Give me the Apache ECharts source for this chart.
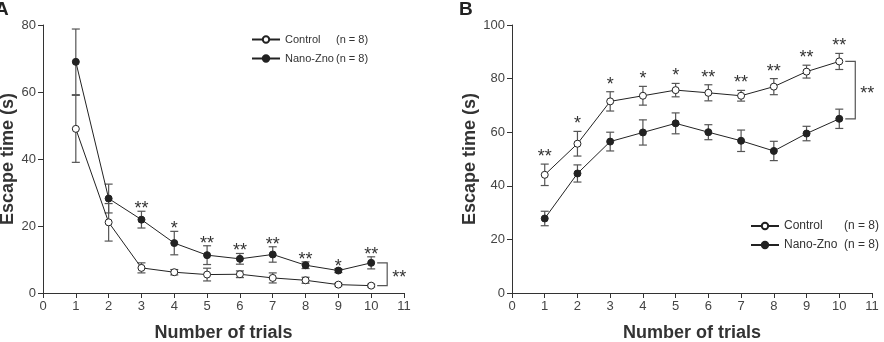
<!DOCTYPE html>
<html>
<head>
<meta charset="utf-8">
<script src="https://cdn.jsdelivr.net/npm/echarts@6/dist/echarts.min.js"></script>
<style>
  html, body { margin: 0; padding: 0; background: #fff; }
  #chart { width: 884px; height: 342px; }
</style>
</head>
<body>
<div id="chart"></div>
<script>
// trial numbers on the x axis
const trials = [1, 2, 3, 4, 5, 6, 7, 8, 9, 10];

// panel A values (mean and error)
const controlA = [49, 21.1, 7.5, 6.2, 5.5, 5.6, 4.5, 3.8, 2.5, 2.2];
const controlErrA = [10, 5.6, 1.5, 0.8, 1.9, 1.0, 1.5, 0.9, 0.4, 0.4];
const nanoA = [69, 28.2, 21.9, 14.9, 11.3, 10.2, 11.5, 8.3, 6.7, 9.0];
const nanoErrA = [9.8, 4.3, 2.5, 3.5, 2.8, 1.6, 2.3, 1.0, 0.6, 1.8];
const starsA = ['', '', '**', '*', '**', '**', '**', '**', '*', '**'];

// panel B values
const controlB = [44.1, 55.7, 71.5, 73.6, 75.7, 74.7, 73.6, 77.0, 82.6, 86.4];
const controlErrB = [4.0, 4.6, 3.6, 3.5, 2.5, 3.0, 2.0, 3.0, 2.4, 3.0];
const nanoB = [27.8, 44.6, 56.5, 59.9, 63.3, 60.0, 56.8, 53.0, 59.5, 65.0];
const nanoErrB = [2.7, 3.2, 3.5, 4.7, 3.9, 2.8, 4.0, 3.6, 2.7, 3.6];
const starsB = ['**', '*', '*', '*', '*', '**', '**', '**', '**', '**'];

const groupNames = ['Control', 'Nano-Zno'];
const nLabel = '(n = 8)';

const FONT = 'Liberation Sans, Arial, sans-serif';
const INK = '#333';

const chart = echarts.init(document.getElementById('chart'));

const pairs = (vals) => trials.map((t, i) => [t, vals[i]]);
const errData = (vals, errs) => trials.map((t, i) => [t, vals[i] - errs[i], vals[i] + errs[i]]);

function errorBarSeries(idx, vals, errs) {
  return {
    type: 'custom',
    xAxisIndex: idx,
    yAxisIndex: idx,
    z: 1,
    silent: true,
    data: errData(vals, errs),
    renderItem: (params, api) => {
      const lo = api.coord([api.value(0), api.value(1)]);
      const hi = api.coord([api.value(0), api.value(2)]);
      const w = 4;
      const style = { stroke: '#555', lineWidth: 1.2 };
      return {
        type: 'group',
        children: [
          { type: 'line', shape: { x1: lo[0], y1: lo[1], x2: hi[0], y2: hi[1] }, style },
          { type: 'line', shape: { x1: lo[0] - w, y1: lo[1], x2: lo[0] + w, y2: lo[1] }, style },
          { type: 'line', shape: { x1: hi[0] - w, y1: hi[1], x2: hi[0] + w, y2: hi[1] }, style }
        ]
      };
    }
  };
}

function lineSeries(idx, name, vals, filled) {
  return {
    type: 'line',
    name: name,
    xAxisIndex: idx,
    yAxisIndex: idx,
    z: 3,
    data: pairs(vals),
    symbol: 'circle',
    symbolSize: 7,
    showSymbol: true,
    lineStyle: { color: '#222', width: 1 },
    itemStyle: {
      color: filled ? '#222' : '#fff',
      borderColor: '#222',
      borderWidth: 1
    },
    emphasis: { disabled: true },
    animation: false
  };
}

function starSeries(idx, vals, errs, stars, gap) {
  return {
    type: 'custom',
    xAxisIndex: idx,
    yAxisIndex: idx,
    z: 4,
    silent: true,
    data: trials.map((t, i) => [t, vals[i] + errs[i]]),
    renderItem: (params, api) => {
      const p = api.coord([api.value(0), api.value(1)]);
      return {
        type: 'text',
        style: {
          text: stars[params.dataIndex],
          x: p[0],
          y: p[1] - gap,
          align: 'center',
          verticalAlign: 'middle',
          font: '18px ' + FONT,
          fill: INK
        }
      };
    }
  };
}

function bracketSeries(idx, topVal, botVal) {
  return {
    type: 'custom',
    xAxisIndex: idx,
    yAxisIndex: idx,
    z: 2,
    silent: true,
    data: [[trials[trials.length - 1], topVal, botVal]],
    renderItem: (params, api) => {
      const a = api.coord([api.value(0), api.value(1)]);
      const b = api.coord([api.value(0), api.value(2)]);
      const x0 = a[0] + 6, x1 = a[0] + 16;
      return {
        type: 'group',
        children: [
          {
            type: 'polyline',
            shape: { points: [[x0, a[1]], [x1, a[1]], [x1, b[1]], [x0, b[1]]] },
            style: { stroke: '#555', lineWidth: 1.2, fill: null }
          },
          {
            type: 'text',
            style: {
              text: '**',
              x: x1 + 12,
              y: (a[1] + b[1]) / 2 + 4,
              align: 'center',
              verticalAlign: 'middle',
              font: '18px ' + FONT,
              fill: INK
            }
          }
        ]
      };
    }
  };
}

function xAxis(idx) {
  return {
    type: 'value',
    gridIndex: idx,
    min: 0,
    max: 11,
    interval: 1,
    name: 'Number of trials',
    nameLocation: 'middle',
    nameGap: 31,
    nameTextStyle: { fontFamily: FONT, fontWeight: 'bold', fontSize: 18, color: INK },
    axisLine: { lineStyle: { color: INK, width: 1 } },
    axisTick: { length: 5, lineStyle: { color: INK } },
    axisLabel: { fontFamily: FONT, fontSize: 13, color: '#444', margin: 7 },
    splitLine: { show: false }
  };
}

function yAxis(idx, max, nameGap) {
  return {
    type: 'value',
    gridIndex: idx,
    min: 0,
    max: max,
    interval: 20,
    name: 'Escape time (s)',
    nameLocation: 'middle',
    nameGap: nameGap,
    nameTextStyle: { fontFamily: FONT, fontWeight: 'bold', fontSize: 18, color: INK },
    axisLine: { show: true, lineStyle: { color: INK, width: 1 } },
    axisTick: { show: true, length: 5, lineStyle: { color: INK } },
    axisLabel: { fontFamily: FONT, fontSize: 13, color: '#444', margin: 7 },
    splitLine: { show: false }
  };
}

function legend(left, top, fontSize, nameWidth, gap) {
  return {
    orient: 'vertical',
    left: left,
    top: top,
    itemWidth: 28,
    itemHeight: 8,
    itemGap: gap,
    selectedMode: false,
    data: groupNames,
    formatter: (name) => `{n|${name}}{c|${nLabel}}`,
    textStyle: {
      fontFamily: FONT,
      fontSize: fontSize,
      color: INK,
      rich: {
        n: { width: nameWidth, fontFamily: FONT, fontSize: fontSize, color: INK },
        c: { fontFamily: FONT, fontSize: fontSize, color: INK }
      }
    }
  };
}

const options = {
  animation: false,
  grid: [
    { left: 43, top: 25, width: 361, height: 268, outerBoundsMode: 'none' },
    { left: 512, top: 25, width: 360, height: 268, outerBoundsMode: 'none' }
  ],
  xAxis: [xAxis(0), xAxis(1)],
  yAxis: [yAxis(0, 80, 26), yAxis(1, 100, 30)],
  legend: [
    legend(246, 29, 11, 51, 8),
    legend(745, 215, 12, 60, 7)
  ],
  graphic: [
    { type: 'text', left: -5, top: 0, style: { text: 'A', font: 'bold 19px ' + FONT, fill: '#222' } },
    { type: 'text', left: 459, top: 0, style: { text: 'B', font: 'bold 19px ' + FONT, fill: '#222' } }
  ],
  series: [
    errorBarSeries(0, controlA, controlErrA),
    errorBarSeries(0, nanoA, nanoErrA),
    lineSeries(0, groupNames[0], controlA, false),
    lineSeries(0, groupNames[1], nanoA, true),
    starSeries(0, nanoA, nanoErrA, starsA, 2),
    bracketSeries(0, nanoA[nanoA.length - 1], controlA[controlA.length - 1]),

    errorBarSeries(1, controlB, controlErrB),
    errorBarSeries(1, nanoB, nanoErrB),
    lineSeries(1, groupNames[0], controlB, false),
    lineSeries(1, groupNames[1], nanoB, true),
    starSeries(1, controlB, controlErrB, starsB, 7),
    bracketSeries(1, controlB[controlB.length - 1], nanoB[nanoB.length - 1])
  ]
};

chart.setOption(options);
</script>
</body>
</html>
